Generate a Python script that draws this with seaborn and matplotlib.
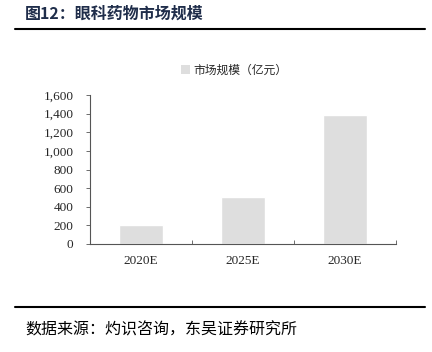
import matplotlib
matplotlib.use('Agg')
import matplotlib.pyplot as plt
import seaborn as sns
import pandas as pd
from matplotlib.lines import Line2D
from matplotlib.patches import Patch

# chart data
years = ['2020E', '2025E', '2030E']
market_size = [200, 500, 1385]
series_name = '市场规模（亿元）'

sns.set_style('white')
plt.rcParams['font.family'] = ['Liberation Serif', 'Noto Sans CJK SC']

df = pd.DataFrame({'year': years, 'size': market_size})

fig = plt.figure(figsize=(4.32, 3.52), dpi=100)
ax = fig.add_axes([90 / 432, 1 - 244 / 352, 306 / 432, 149 / 352])

bar_color = '#DEDEDE'
sns.barplot(data=df, x='year', y='size', color=bar_color, width=0.43,
            saturation=1, ax=ax)

ax.set_ylim(0, 1600)
ax.set_xlim(-0.5, 2.5)
ax.set_yticks(range(0, 1601, 200))
ax.set_yticklabels([f'{v:,}' for v in range(0, 1601, 200)], fontsize=9.5,
                   family='Liberation Serif')
ax.set_xticks([0, 1, 2])
ax.set_xticklabels(years, fontsize=9.5, family='Liberation Serif')
ax.tick_params(axis='x', length=0, pad=8)
ax.tick_params(axis='y', length=3, width=0.6, color='#555555', pad=9,
               direction='out', left=True)
# ticks at category boundaries on x axis
ax.set_xticks([0.5, 1.5, 2.5], minor=True)
ax.tick_params(axis='x', which='minor', length=3, width=0.6, color='#555555',
               direction='in', bottom=True)
ax.set_xlabel('')
ax.set_ylabel('')
for s in ['top', 'right']:
    ax.spines[s].set_visible(False)
for s in ['left', 'bottom']:
    ax.spines[s].set_color('#555555')
    ax.spines[s].set_linewidth(0.8)

ax.legend(handles=[Patch(facecolor=bar_color, edgecolor='none',
                         label=series_name)],
          loc='center', bbox_to_anchor=(234 / 432, 1 - 70 / 352),
          bbox_transform=fig.transFigure, frameon=False,
          handlelength=0.8, handleheight=0.8, handletextpad=0.3,
          prop={'family': 'Noto Sans CJK SC', 'size': 8.5})

# title, rules, source
fig.text(25 / 432, 1 - 14 / 352, '图12：眼科药物市场规模', fontsize=11.5,
         fontweight='bold', color='#1F2D4A', va='center', ha='left',
         family=['Noto Sans CJK SC'])
fig.add_artist(Line2D([15 / 432, 425 / 432], [1 - 29 / 352, 1 - 29 / 352],
                      color='black', lw=1.5, transform=fig.transFigure))
fig.add_artist(Line2D([15 / 432, 425 / 432], [1 - 307 / 352, 1 - 307 / 352],
                      color='black', lw=1.5, transform=fig.transFigure))
fig.text(25 / 432, 1 - 330 / 352, '数据来源：灼识咨询，东吴证券研究所',
         fontsize=11.5, color='black', va='center', ha='left',
         family=['Noto Sans CJK SC'])

fig.savefig('out.png', dpi=100)
